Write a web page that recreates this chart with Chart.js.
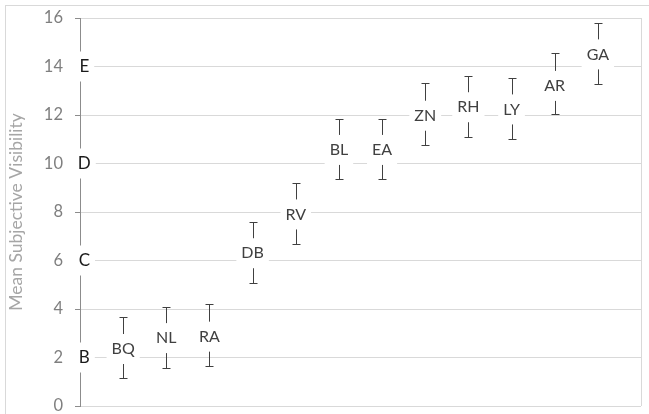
<!DOCTYPE html>
<html>
<head>
<meta charset="utf-8">
<script src="https://cdn.jsdelivr.net/npm/chart.js@4.4.1/dist/chart.umd.min.js"></script>
<style>
  html, body { margin: 0; padding: 0; background: #fff; }
  canvas { display: block; }
</style>
</head>
<body>
<canvas id="grafico" width="649" height="414"></canvas>
<script>
// observadores e posicoes no eixo x
const codigos = ["BQ", "NL", "RA", "DB", "RV", "BL", "EA", "ZN", "RH", "LY", "AR", "GA"]
const posicoes = [1, 2, 3, 4, 5, 6, 7, 8, 9, 10, 11, 12]
const medias = [2.35, 2.8, 2.86, 6.3, 7.9, 10.56, 10.56, 11.97, 12.32, 12.23, 13.2, 14.5]
const superior = [3.68, 4.1, 4.19, 7.6, 9.18, 11.83, 11.83, 13.3, 13.6, 13.53, 14.54, 15.78]
const inferior = [1.17, 1.57, 1.65, 5.08, 6.67, 9.35, 9.35, 10.77, 11.1, 11.02, 12.03, 13.28]

// letras no eixo y
const letras = ["B", "C", "D", "E"]
const letrasY = [2, 6, 10, 14]
const letrasX = [0.1, 0.1, 0.1, 0.1]

const yTicks = [0, 2, 4, 6, 8, 10, 12, 14, 16]

const fonte = "Lato, 'Open Sans', sans-serif"

const pontos = codigos.map((c, i) => ({ x: posicoes[i], y: medias[i] }))
const pontosLetras = letras.map((l, i) => ({ x: letrasX[i], y: letrasY[i] }))

// moldura externa
const moldura = {
  id: "moldura",
  beforeDraw(chart) {
    const ctx = chart.ctx
    ctx.save()
    ctx.fillStyle = "#fff"
    ctx.fillRect(0, 0, chart.width, chart.height)
    ctx.strokeStyle = "#d9d9d9"
    ctx.lineWidth = 1
    ctx.strokeRect(5.5, 5.5, chart.width + 20, chart.height + 20)
    ctx.restore()
  }
}

// barras de erro + rotulos com caixa branca
const rotulos = {
  id: "rotulos",
  afterDatasetsDraw(chart) {
    const ctx = chart.ctx
    const ys = chart.scales.y
    const meta = chart.getDatasetMeta(0)
    ctx.save()
    ctx.strokeStyle = "#404040"
    ctx.lineWidth = 1
    meta.data.forEach((p, i) => {
      const x = Math.round(p.x) + 0.5
      const yTop = Math.round(ys.getPixelForValue(superior[i])) + 0.5
      const yBot = Math.round(ys.getPixelForValue(inferior[i])) + 0.5
      ctx.beginPath()
      ctx.moveTo(x, yTop)
      ctx.lineTo(x, yBot)
      ctx.moveTo(x - 4, yTop)
      ctx.lineTo(x + 4, yTop)
      ctx.moveTo(x - 4, yBot)
      ctx.lineTo(x + 4, yBot)
      ctx.stroke()
    })

    const caixa = (texto, x, y, font, cor) => {
      ctx.font = font
      const w = ctx.measureText(texto).width
      ctx.fillStyle = "#fff"
      ctx.fillRect(x - w / 2 - 5, y - 15, w + 10, 30)
      ctx.fillStyle = cor
      ctx.textAlign = "center"
      ctx.textBaseline = "middle"
      ctx.fillText(texto, x, y)
    }

    meta.data.forEach((p, i) => {
      caixa(codigos[i], p.x, p.y, "16px " + fonte, "#404040")
    })
    chart.getDatasetMeta(1).data.forEach((p, i) => {
      caixa(letras[i], p.x, p.y, "17px " + fonte, "#1a1a1a")
    })
    ctx.restore()
  }
}

new Chart(document.getElementById("grafico"), {
  type: "scatter",
  data: {
    datasets: [
      { label: "observadores", data: pontos, pointRadius: 0 },
      { label: "letras", data: pontosLetras, pointRadius: 0 }
    ]
  },
  options: {
    responsive: false,
    animation: false,
    layout: { padding: { top: 18, right: 8, bottom: 8, left: 0 } },
    plugins: {
      legend: { display: false },
      tooltip: { enabled: false }
    },
    scales: {
      x: {
        type: "linear",
        min: 0,
        max: 13,
        afterFit(scale) {
          scale.height = 0
          scale.paddingLeft = 0
          scale.paddingRight = 0
        },
        ticks: { display: false, stepSize: 13 },
        grid: {
          drawTicks: false,
          color: (c) => (c.tick && c.tick.value === 13 ? "#d9d9d9" : "rgba(0,0,0,0)")
        },
        border: { display: false }
      },
      y: {
        min: 0,
        max: 16,
        afterBuildTicks(scale) {
          scale.ticks = yTicks.map((v) => ({ value: v }))
        },
        afterFit(scale) {
          scale.width = 80
          scale.paddingTop = 0
          scale.paddingBottom = 0
        },
        ticks: {
          color: "#7f7f7f",
          font: { family: fonte, size: 16.5 },
          padding: 12
        },
        grid: {
          color: "#d9d9d9",
          tickColor: "#8c8c8c",
          tickLength: 5
        },
        border: { display: true, color: "#8c8c8c" },
        title: {
          display: true,
          text: "Mean Subjective Visibility",
          color: "#a6a6a6",
          font: { family: fonte, size: 17.5 },
          padding: { top: 6, bottom: 0 }
        }
      }
    }
  },
  plugins: [moldura, rotulos]
})
</script>
</body>
</html>
